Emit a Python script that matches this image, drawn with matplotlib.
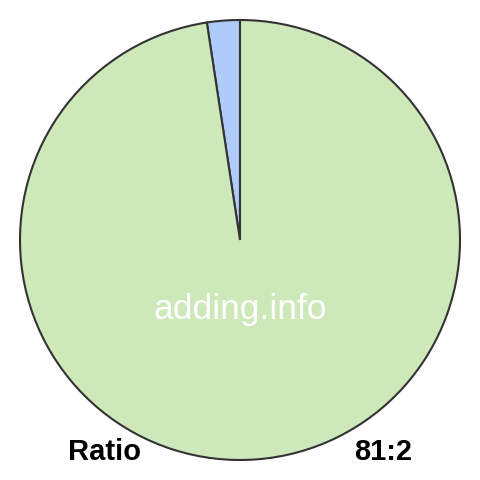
import matplotlib.pyplot as plt

labels = ['2', '81']
values = [2, 81]
colors = ['#aecbfa', '#cde8b9']

plt.rcParams['font.family'] = ['Liberation Sans', 'DejaVu Sans']

fig = plt.figure(figsize=(4.8, 4.8), dpi=100)
ax = fig.add_axes([0, 0, 1, 1])

ax.pie(values, colors=colors, startangle=90, counterclock=True,
       center=(240, 240), radius=220, frame=True,
       wedgeprops=dict(edgecolor='#333333', linewidth=1.5))
ax.set_xlim(0, 480)
ax.set_ylim(0, 480)
ax.set_aspect('equal')
ax.axis('off')

ax.text(240, 171, 'adding.info', color='white', fontsize=25.5,
        ha='center', va='center')
ax.text(68, 28, 'Ratio', fontsize=21, fontweight='bold', ha='left', va='center')
ax.text(412, 28, '%d:%d' % (values[1], values[0]), fontsize=21,
        fontweight='bold', ha='right', va='center')

fig.savefig('out.png', dpi=100)
